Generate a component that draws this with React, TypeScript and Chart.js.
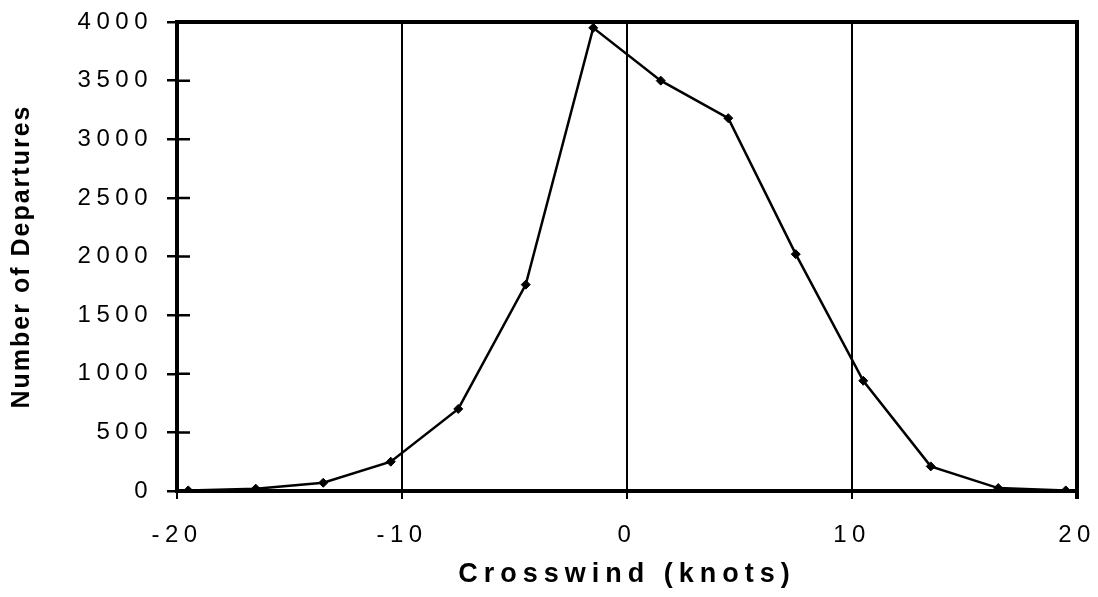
import React, { useEffect, useRef } from "react";
import { Chart, registerables } from "chart.js";

Chart.register(...registerables);

const crosswind = [-19.5, -16.5, -13.5, -10.5, -7.5, -4.5, -1.5, 1.5, 4.5, 7.5, 10.5, 13.5, 16.5, 19.5];
const departures = [5, 20, 70, 250, 700, 1760, 3950, 3500, 3180, 2020, 940, 210, 25, 5];
const xTickValues = [-20, -10, 0, 10, 20];
const yTickValues = [0, 500, 1000, 1500, 2000, 2500, 3000, 3500, 4000];
const xTitle = "Crosswind (knots)";
const yTitle = "Number of Departures";

const FONT = "'Liberation Sans', Arial, Helvetica, sans-serif";

function patchScale(scale: any, labelSpacing: string, titleSpacing: string) {
  if (!scale || scale.__patched) return;
  const dl = scale.drawLabels;
  const dt = scale.drawTitle;
  scale.drawLabels = function (...args: any[]) {
    const c = this.ctx;
    c.save();
    c.letterSpacing = labelSpacing;
    dl.apply(this, args);
    c.restore();
  };
  scale.drawTitle = function (...args: any[]) {
    const c = this.ctx;
    c.save();
    c.letterSpacing = titleSpacing;
    dt.apply(this, args);
    c.restore();
  };
  scale.__patched = true;
}

function zeroPadding(scale: any) {
  scale.paddingLeft = 0;
  scale.paddingRight = 0;
  scale.paddingTop = 0;
  scale.paddingBottom = 0;
}

const framePlugin = {
  id: "frame",
  beforeDraw(chart: any) {
    patchScale(chart.scales.x, "5.5px", "6px");
    patchScale(chart.scales.y, "5.5px", "2px");
  },
  afterDraw(chart: any) {
    const { ctx, chartArea: a, scales } = chart;
    const y = scales.y;
    ctx.save();
    ctx.strokeStyle = "#000";
    ctx.lineWidth = 4;
    ctx.beginPath();
    ctx.moveTo(a.left - 2, a.top);
    ctx.lineTo(a.right, a.top);
    ctx.lineTo(a.right, a.bottom + 8);
    ctx.stroke();
    ctx.lineWidth = 2.5;
    ctx.beginPath();
    y.ticks.forEach((t: any) => {
      const py = y.getPixelForValue(t.value);
      ctx.moveTo(a.left, py);
      ctx.lineTo(a.left + 13, py);
    });
    ctx.stroke();
    ctx.restore();
  },
};

export default function App() {
  const ref = useRef<HTMLCanvasElement | null>(null);

  useEffect(() => {
    if (!ref.current) return;
    const chart = new Chart(ref.current, {
      type: "line",
      data: {
        datasets: [
          {
            data: crosswind.map((x, i) => ({ x, y: departures[i] })),
            borderColor: "#000",
            borderWidth: 2.5,
            pointStyle: "rectRot",
            pointRadius: 4.5,
            pointBackgroundColor: "#000",
            pointBorderColor: "#000",
            pointBorderWidth: 1,
            tension: 0,
            fill: false,
          },
        ],
      },
      options: {
        animation: false,
        responsive: true,
        maintainAspectRatio: false,
        layout: {
          autoPadding: false,
          padding: { left: 0, right: 21, top: 22, bottom: 0 },
        },
        plugins: {
          legend: { display: false },
          tooltip: { enabled: false },
        },
        scales: {
          x: {
            type: "linear",
            min: -20,
            max: 20,
            afterBuildTicks: (scale: any) => {
              scale.ticks = xTickValues.map((v) => ({ value: v }));
            },
            afterFit: (scale: any) => {
              scale.height = 106;
              zeroPadding(scale);
            },
            grid: {
              color: "#000",
              lineWidth: 2,
              drawOnChartArea: true,
              drawTicks: true,
              tickLength: 8,
            },
            border: { display: true, color: "#000", width: 4 },
            ticks: {
              color: "#000",
              font: { family: FONT, size: 24 },
              padding: 22,
              maxRotation: 0,
              callback: (v: any) => String(v),
            },
            title: {
              display: true,
              text: xTitle,
              color: "#000",
              font: { family: FONT, size: 27, weight: "bold" },
              padding: { top: 0, bottom: 6 },
            },
          },
          y: {
            type: "linear",
            min: 0,
            max: 4000,
            afterBuildTicks: (scale: any) => {
              scale.ticks = yTickValues.map((v) => ({ value: v }));
            },
            afterFit: (scale: any) => {
              scale.width = 177;
              zeroPadding(scale);
            },
            grid: {
              color: "#000",
              lineWidth: 2.5,
              drawOnChartArea: false,
              drawTicks: true,
              tickLength: 10,
            },
            border: { display: true, color: "#000", width: 4 },
            ticks: {
              color: "#000",
              font: { family: FONT, size: 24 },
              padding: 14,
              callback: (v: any) => String(v),
            },
            title: {
              display: true,
              text: yTitle,
              color: "#000",
              font: { family: FONT, size: 25, weight: "bold" },
              padding: { top: 7, bottom: 0 },
            },
          },
        },
      },
      plugins: [framePlugin],
    } as any);
    return () => chart.destroy();
  }, []);

  return (
    <div style={{ position: "absolute", left: 0, top: 0, width: 1098, height: 597, background: "#fff" }}>
      <canvas ref={ref} />
    </div>
  );
}
